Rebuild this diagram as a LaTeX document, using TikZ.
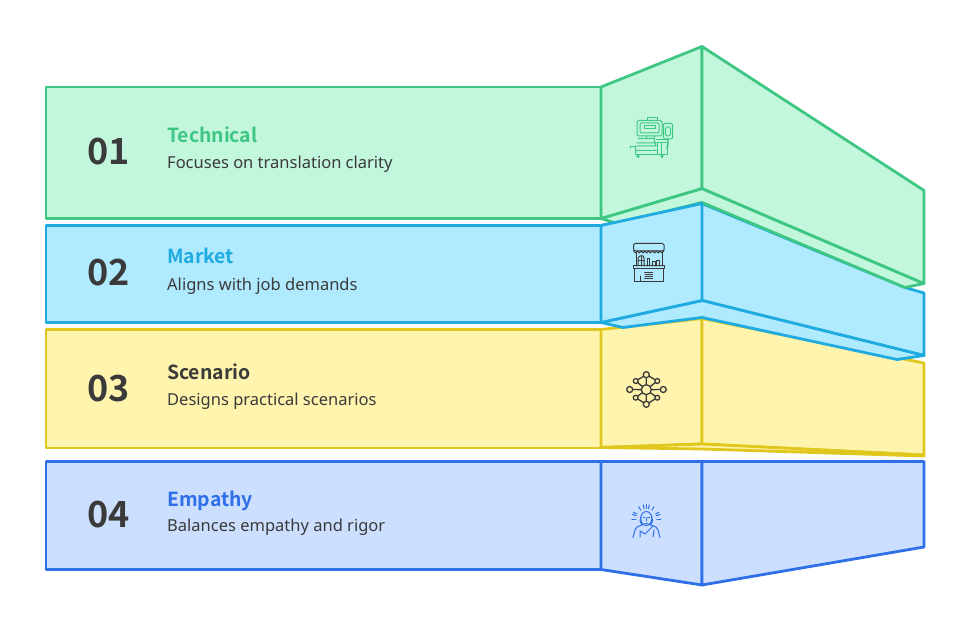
\documentclass[tikz,border=0pt]{standalone}
\usepackage{fontspec}
\usetikzlibrary{calc}
\setmainfont{Noto Sans}
\newfontfamily\numfont{Noto Sans CJK SC}[BoldFont={Noto Sans CJK SC Bold}]
\definecolor{gfill}{HTML}{C2F7DD}\definecolor{gline}{HTML}{3EC683}
\definecolor{bfill}{HTML}{B0EAFF}\definecolor{bline}{HTML}{20ABE0}
\definecolor{yfill}{HTML}{FFF4AD}\definecolor{yline}{HTML}{DFC71D}
\definecolor{pfill}{HTML}{CCDFFF}\definecolor{pline}{HTML}{2F6FE8}
\definecolor{ink}{HTML}{3A3A3A}
\tikzset{
  x=1pt,y=-1pt,
  panel/.style={line width=2.8pt,line join=round},
  num/.style={anchor=base,inner sep=0,text=ink,font=\numfont\fontsize{36}{36}\selectfont\bfseries},
  ttl/.style={anchor=base west,inner sep=0,font=\numfont\fontsize{19.4}{20}\selectfont\bfseries},
  txt/.style={anchor=base west,inner sep=0,text=ink,font=\fontsize{16.5}{18}\selectfont},
  ico/.style={line width=1pt,line join=round,line cap=round},
}
\begin{document}
\begin{tikzpicture}
\useasboundingbox (0,0) rectangle (970,631);
\fill[white] (0,0) rectangle (970,631);
% Panel 1
\draw[panel,draw=bline,fill=bfill] (702,203.5) -- (905,287.5) -- (924,293) -- (924,355.5) -- (702,300.5) -- (601,322.5) -- (601,225.5) -- cycle;
\draw[panel,draw=gline,fill=gfill] (601,218.5) -- (617,223.5) -- (702,202.5) -- (905,287.5) -- (924,283.5) -- (702,188.5) -- cycle;
\draw[panel,draw=gline,fill=gfill] (46,87) rectangle (601,218.5);
\draw[panel,draw=gline,fill=gfill] (601,87) -- (702,46.5) -- (702,188.5) -- (601,218.5) -- cycle;
\draw[panel,draw=gline,fill=gfill] (702,46.5) -- (924,190.5) -- (924,283.5) -- (702,188.5) -- cycle;
% Panel 3 (under the fold of panel 2)
\draw[panel,draw=yline,fill=yfill] (46,329.5) rectangle (601,448);
\draw[panel,draw=yline,fill=yfill] (601,329.5) -- (702,318.5) -- (702,444) -- (601,447.5) -- cycle;
\draw[panel,draw=yline,fill=yfill] (702,318.5) -- (924,363) -- (924,455) -- (702,444) -- cycle;
\draw[panel,draw=yline,fill=yfill] (601,447.5) -- (702,444) -- (924,455) -- (924,456) -- (702,449) -- cycle;
% Panel 2
\draw[panel,draw=bline,fill=bfill] (601,322.5) -- (623,327.5) -- (702,317.5) -- (897,359.5) -- (924,355.5) -- (702,300.5) -- cycle;
\draw[panel,draw=bline,fill=bfill] (46,225.5) rectangle (601,322.5);
\draw[panel,draw=bline,fill=bfill] (601,225.5) -- (702,203.5) -- (702,300.5) -- (601,322.5) -- cycle;
% Panel 4
\draw[panel,draw=pline,fill=pfill] (46,461.5) rectangle (601,569.5);
\draw[panel,draw=pline,fill=pfill] (601,461.5) -- (702,461.5) -- (702,585) -- (601,569.5) -- cycle;
\draw[panel,draw=pline,fill=pfill] (702,461.5) -- (924,461.5) -- (924,547) -- (702,585) -- cycle;
% Text
\node[num] (n1) at (108.5,165) {01};
\node[num] (n2) at (108.5,286) {02};
\node[num] (n3) at (108.5,401) {03};
\node[num] (n4) at (108.5,527.5) {04};
\node[ttl,text=gline] (t1) at (167,143) {Technical};
\node[txt] (d1) at (167,168.5) {Focuses on translation clarity};
\node[ttl,text=bline] (t2) at (167,264) {Market};
\node[txt] (d2) at (167,290.5) {Aligns with job demands};
\node[ttl,text=ink] (t3) at (167,379.5) {Scenario};
\node[txt] (d3) at (167,405) {Designs practical scenarios};
\node[ttl,text=pline] (t4) at (167,506) {Empathy};
\node[txt] (d4) at (167,531) {Balances empathy and rigor};
% Icon 1: machine
\begin{scope}[ico,draw=gline]
\draw[rounded corners=1.5pt] (637,120.5) rectangle (662,136);
\draw[rounded corners=1pt] (640,123) rectangle (659,133);
\draw (644,125.5) rectangle (655,129);
\draw (647,120.5) -- (647,117.5) -- (657,117.5) -- (657,120.5);
\draw (646,136) -- (646,138) (654,136) -- (654,138);
\draw[rounded corners=1pt] (663.5,123.5) rectangle (672.5,139);
\draw[rounded corners=1.5pt] (665.5,127) rectangle (670.5,136);
\draw (668,139) -- (668,146) -- (666,148);
\draw (637,143) -- (656,143) (637,146) -- (655,146) (638,138.5) -- (654,138.5) -- (656,146);
\draw (635,146) -- (635,154.5) -- (667,154.5) -- (667,140) -- (656,140);
\draw (657,143) -- (657,154) (661,143) -- (661,154) (657,143) -- (666,143);
\draw (630,146.5) -- (636,146.5) (630,146.5) -- (630,148);
\draw (636,150.5) -- (657,150.5);
\draw (638,156.2) circle (1.2) (662,156.2) circle (1.2);
\end{scope}
% Icon 2: store
\begin{scope}[ico,draw=ink]
\draw[rounded corners=1.5pt] (633.5,251) -- (633.5,243.5) -- (664,243.5) -- (664,251) -- cycle;
\draw (633.5,251) \foreach \i in {0,...,7} { arc[start angle=180,end angle=0,x radius=1.9,y radius=1.9] };
\draw (636,253) -- (636,266) (662,253) -- (662,266);
\draw (633,266) rectangle (664,269);
\draw (634.5,269) -- (634.5,281.5) -- (663,281.5) -- (663,269);
\draw (638,266) -- (638,258) -- (640,256) -- (643,256) -- (644,258) -- (644,266);
\draw (641,256) -- (641,266) (638,261) -- (644,261);
\draw (647,266) -- (647,258.5) -- (649,258.5) -- (649,266);
\draw (652,266) -- (652,262) -- (655,262) -- (655,266);
\draw (656,266) -- (656,261) -- (659,261) -- (659,266);
\draw (644.5,272.5) -- (652.5,272.5) (645,274.5) -- (652.5,274.5) (645,276.5) -- (652.5,276.5) (644.5,278.5) -- (652.5,278.5);
\draw (640,281) -- (640,276);
\end{scope}
% Icon 3: network
\begin{scope}[line width=1.3pt,draw=ink]
\coordinate (c) at (646.3,389.7);
\coordinate (a1) at (646.3,374.7); \coordinate (a2) at (646.3,404.3);
\coordinate (a3) at (629.7,389.5); \coordinate (a4) at (663.3,389.5);
\coordinate (a5) at (635.7,381);   \coordinate (a6) at (657.3,381);
\coordinate (a7) at (635.7,397.7); \coordinate (a8) at (657.3,397.7);
\draw (c) -- (a1) (c) -- (a2) (c) -- (a3) (c) -- (a4);
\draw (a1) -- (a5) (a1) -- (a6) (a2) -- (a7) (a2) -- (a8);
\draw (c) -- (a5) (c) -- (a6) (c) -- (a7) (c) -- (a8);
\draw[fill=yfill] (c) circle (5);
\draw[fill=yfill] (a1) circle (3) (a2) circle (3) (a3) circle (3) (a4) circle (3);
\draw[fill=yfill] (a5) circle (2.4) (a6) circle (2.4) (a7) circle (2.4) (a8) circle (2.4);
\end{scope}
% Icon 4: person
\begin{scope}[ico,draw=pline]
\draw (646.3,518.5) ellipse (5.6 and 7);
\draw (641,517) -- (640,521) -- (642,525) (651.6,517) -- (652.6,521) -- (650.6,525);
\draw (643,517) -- (645,517) (647.6,517) -- (649.6,517) (646.3,518) -- (646.3,521) (644.5,523) -- (648,523);
\draw (633,537.5) -- (635,530) -- (637,527) -- (643,524.5);
\draw (660,537.5) -- (658,530) -- (656,527) -- (649.5,524.5);
\draw (640,537) -- (640,531) -- (645,534) -- (653,526);
\draw (653,537) -- (654,530);
\foreach \a in {0,28,58,78,90,102,122,152,180,18,162} {
  \draw ($(646.3,519)+(-\a:10.5)$) -- ($(646.3,519)+(-\a:14.5)$);
}
\end{scope}
\end{tikzpicture}
\end{document}
